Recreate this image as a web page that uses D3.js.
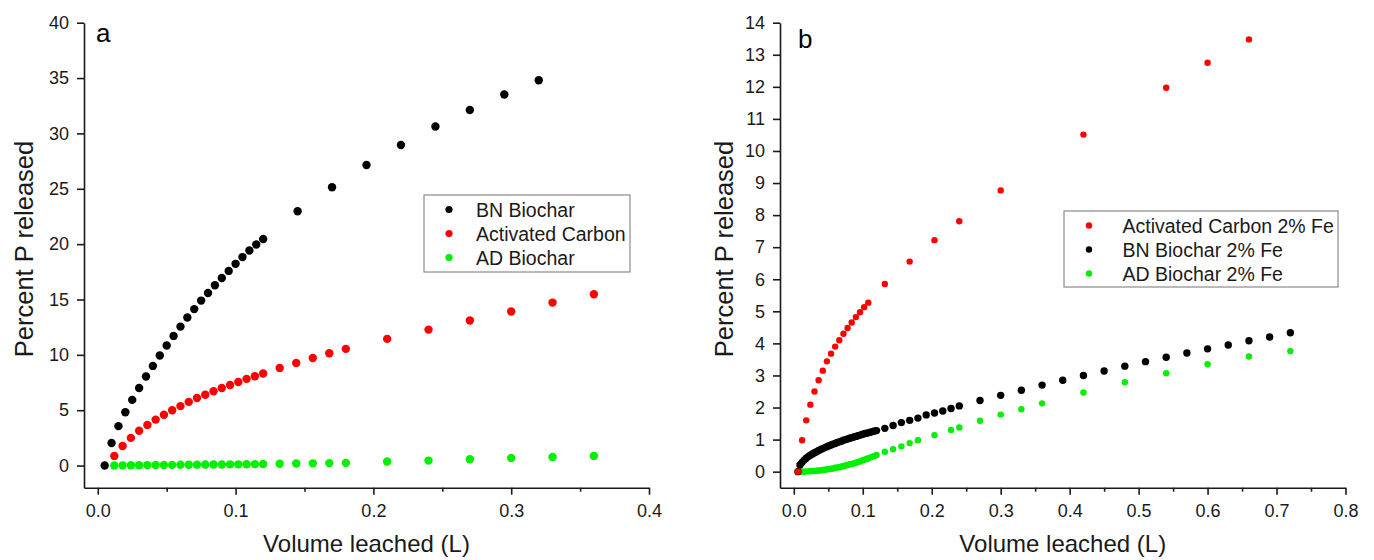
<!DOCTYPE html>
<html>
<head>
<meta charset="utf-8">
<script src="https://cdn.jsdelivr.net/npm/d3@7"></script>
<style>
  html, body { margin: 0; padding: 0; background: #fff; }
  svg { display: block; font-family: Arial, "Liberation Sans", sans-serif; }
  .axis path, .axis line { stroke: #1a1a1a; stroke-width: 1.6; }
  .axis text { fill: #1a1a1a; font-size: 18px; font-family: Arial, "Liberation Sans", sans-serif; }
</style>
</head>
<body>
<svg id="chart" width="1374" height="560"></svg>
<script>
// ---------- Panel a: unmodified sorbents ----------
const bnX = [0.005,0.01,0.015,0.02,0.025,0.03,0.035,0.04,0.045,0.05,0.055,0.06,0.065,0.07,0.075,0.08,0.085,0.09,0.095,0.1,0.105,0.11,0.115,0.12,
             0.145,0.17,0.195,0.22,0.245,0.27,0.295,0.32];
const bnY = [0,2.04,3.56,4.82,5.93,7.01,8.04,9.0,9.94,10.84,11.71,12.55,13.37,14.13,14.9,15.58,16.28,16.94,17.58,18.22,18.83,19.43,19.96,20.47,
             22.97,25.14,27.15,28.96,30.62,32.12,33.51,34.8];

const acX = [0.012,0.018,0.024,0.03,0.036,0.042,0.048,0.054,0.06,0.066,0.072,0.078,0.084,0.09,0.096,0.102,0.108,0.114,0.12,
             0.132,0.144,0.156,0.168,0.18,0.21,0.24,0.27,0.3,0.33,0.36];
const acY = [0.87,1.77,2.5,3.14,3.67,4.15,4.59,5.0,5.37,5.75,6.1,6.4,6.71,7.01,7.28,7.55,7.83,8.07,8.31,
             8.82,9.27,9.72,10.14,10.54,11.44,12.28,13.1,13.91,14.72,15.47];

const adX = acX;
const adY = [0.01,0.02,0.03,0.03,0.04,0.05,0.05,0.06,0.07,0.07,0.08,0.09,0.09,0.1,0.11,0.11,0.12,0.13,0.14,
             0.16,0.18,0.2,0.22,0.24,0.36,0.45,0.57,0.69,0.78,0.87];

// ---------- Panel b: 2% Fe sorbents ----------
const acFeX = [0.006,0.012,0.018,0.024,0.03,0.036,0.042,0.048,0.054,0.06,0.066,0.072,0.078,0.084,0.09,0.096,0.102,0.108,
               0.132,0.168,0.204,0.24,0.3,0.42,0.54,0.6,0.66];
const acFeY = [0,0.98,1.6,2.09,2.5,2.85,3.15,3.44,3.68,3.9,4.1,4.3,4.48,4.65,4.82,4.97,5.13,5.27,
               5.85,6.55,7.22,7.81,8.77,10.51,11.97,12.75,13.48];

const bnFeX = [0.006,0.009,0.012,0.015,0.018,0.021,0.024,0.027,0.03,0.033,0.036,0.039,0.042,0.045,0.048,0.051,0.054,0.057,0.06,
               0.063,0.066,0.069,0.072,0.075,0.078,0.081,0.084,0.087,0.09,0.093,0.096,0.099,0.102,0.105,0.108,0.111,0.114,0.117,0.12,
               0.132,0.144,0.156,0.168,0.18,0.192,0.204,0.216,0.228,0.24,
               0.27,0.3,0.33,0.36,0.39,0.42,0.45,0.48,0.51,0.54,0.57,0.6,0.63,0.66,0.69,0.72];
const bnFeY = [0,0.21,0.29,0.36,0.42,0.47,0.51,0.55,0.59,0.62,0.66,0.69,0.72,0.75,0.78,0.81,0.83,0.86,0.88,
               0.91,0.93,0.95,0.98,1.0,1.02,1.04,1.06,1.08,1.1,1.12,1.14,1.16,1.18,1.2,1.21,1.23,1.25,1.27,1.28,
               1.35,1.44,1.53,1.6,1.67,1.77,1.83,1.89,1.97,2.05,
               2.22,2.38,2.54,2.7,2.85,3.0,3.14,3.29,3.43,3.57,3.7,3.83,3.95,4.08,4.2,4.33];

const adFeX = [0.006,0.009,0.012,0.015,0.018,0.021,0.024,0.027,0.03,0.033,0.036,0.039,0.042,0.045,0.048,0.051,0.054,0.057,0.06,
               0.063,0.066,0.069,0.072,0.075,0.078,0.081,0.084,0.087,0.09,0.093,0.096,0.099,0.102,0.105,0.108,0.111,0.114,0.117,0.12,
               0.132,0.144,0.156,0.168,0.18,0.204,0.228,0.24,
               0.27,0.3,0.33,0.36,0.42,0.48,0.54,0.6,0.66,0.72];
const adFeY = [0,0,0,0,0.01,0.01,0.01,0.02,0.02,0.03,0.04,0.04,0.05,0.06,0.07,0.08,0.09,0.1,0.12,
               0.13,0.14,0.16,0.17,0.19,0.21,0.23,0.24,0.26,0.28,0.3,0.32,0.35,0.37,0.39,0.42,0.44,0.47,0.49,0.52,
               0.62,0.7,0.79,0.89,0.98,1.14,1.3,1.38,
               1.59,1.78,1.95,2.13,2.47,2.79,3.07,3.35,3.59,3.76];

// Tick values
const xTicksA = [0, 0.1, 0.2, 0.3, 0.4];
const xMinorA = [0.05, 0.15, 0.25, 0.35];
const yTicksA = [0, 5, 10, 15, 20, 25, 30, 35, 40];
const xTicksB = [0, 0.1, 0.2, 0.3, 0.4, 0.5, 0.6, 0.7, 0.8];
const xMinorB = [0.05, 0.15, 0.25, 0.35, 0.45, 0.55, 0.65, 0.75];
const yTicksB = [0, 1, 2, 3, 4, 5, 6, 7, 8, 9, 10, 11, 12, 13, 14];

const RED = "#ff0000", BLACK = "#000000", GREEN = "#00f000";

const svg = d3.select("#chart");
const zip = (xs, ys) => xs.map((x, i) => ({ x, y: ys[i] }));

function drawPanel(cfg) {
  const x = d3.scaleLinear().domain(cfg.xDomain).range([cfg.left, cfg.right]);
  const y = d3.scaleLinear().domain(cfg.yDomain).range([cfg.bottom, cfg.top]);
  const g = svg.append("g");

  // minor x ticks
  g.append("g").attr("class", "axis")
    .attr("transform", `translate(0,${cfg.bottom})`)
    .call(d3.axisBottom(x).tickValues(cfg.xMinor).tickSize(4).tickSizeOuter(0).tickFormat(""))
    .call(s => s.select(".domain").remove());

  g.append("g").attr("class", "axis")
    .attr("transform", `translate(0,${cfg.bottom})`)
    .call(d3.axisBottom(x).tickValues(cfg.xTicks).tickSize(7).tickSizeOuter(0)
      .tickPadding(10).tickFormat(d3.format(".1f")));

  g.append("g").attr("class", "axis")
    .attr("transform", `translate(${cfg.left},0)`)
    .call(d3.axisLeft(y).tickValues(cfg.yTicks).tickSize(7).tickSizeOuter(0)
      .tickPadding(8).tickFormat(d3.format("d")));

  // axis titles
  g.append("text")
    .attr("x", (cfg.left + cfg.right) / 2).attr("y", 552)
    .attr("text-anchor", "middle").attr("font-size", 24).attr("fill", "#1a1a1a")
    .text("Volume leached (L)");
  g.append("text")
    .attr("transform", `translate(${cfg.titleX},${249}) rotate(-90)`)
    .attr("text-anchor", "middle").attr("font-size", 25.5).attr("fill", "#1a1a1a")
    .text("Percent P released");

  // panel letter
  g.append("text")
    .attr("x", cfg.letterX).attr("y", cfg.letterY)
    .attr("font-size", 26).attr("fill", "#000")
    .text(cfg.letter);

  // series
  cfg.series.forEach(s => {
    g.append("g").selectAll("circle")
      .data(zip(s.x, s.y)).join("circle")
      .attr("cx", d => x(d.x)).attr("cy", d => y(d.y))
      .attr("r", s.r).attr("fill", s.color);
  });

  // legend
  const L = cfg.legend;
  const lg = g.append("g");
  lg.append("rect")
    .attr("x", L.x).attr("y", L.y).attr("width", L.w).attr("height", L.h)
    .attr("fill", "#fff").attr("stroke", "#8a8a8a").attr("stroke-width", 1.2);
  L.items.forEach((it, i) => {
    const cy = L.y + L.first + i * 24;
    lg.append("circle").attr("cx", L.x + L.markerDx).attr("cy", cy).attr("r", L.r).attr("fill", it.color);
    lg.append("text").attr("x", L.x + L.textDx).attr("y", cy + 7)
      .attr("font-size", 19.5).attr("fill", "#1a1a1a").text(it.label);
  });
}

drawPanel({
  left: 84, right: 649, top: 22.7, bottom: 487.7,
  xDomain: [-0.01, 0.4], yDomain: [-2, 40],
  xTicks: xTicksA, xMinor: xMinorA, yTicks: yTicksA,
  titleX: 33, letter: "a", letterX: 96, letterY: 42,
  series: [
    { x: adX, y: adY, color: GREEN, r: 4.2 },
    { x: acX, y: acY, color: RED, r: 4.2 },
    { x: bnX, y: bnY, color: BLACK, r: 4.2 }
  ],
  legend: {
    x: 424, y: 195, w: 206, h: 77, first: 14.5, markerDx: 25, textDx: 52, r: 3.6,
    items: [
      { label: "BN Biochar", color: BLACK },
      { label: "Activated Carbon", color: RED },
      { label: "AD Biochar", color: GREEN }
    ]
  }
});

drawPanel({
  left: 780, right: 1345.5, top: 22.7, bottom: 487.7,
  xDomain: [-0.02, 0.8], yDomain: [-0.5, 14],
  xTicks: xTicksB, xMinor: xMinorB, yTicks: yTicksB,
  titleX: 733, letter: "b", letterX: 798, letterY: 48,
  series: [
    { x: adFeX, y: adFeY, color: GREEN, r: 3.2 },
    { x: bnFeX, y: bnFeY, color: BLACK, r: 3.7 },
    { x: acFeX, y: acFeY, color: RED, r: 3.2 }
  ],
  legend: {
    x: 1064, y: 211, w: 274, h: 76, first: 14.5, markerDx: 25, textDx: 58.5, r: 3.2,
    items: [
      { label: "Activated Carbon 2% Fe", color: RED },
      { label: "BN Biochar 2% Fe", color: BLACK },
      { label: "AD Biochar 2% Fe", color: GREEN }
    ]
  }
});
</script>
</body>
</html>
